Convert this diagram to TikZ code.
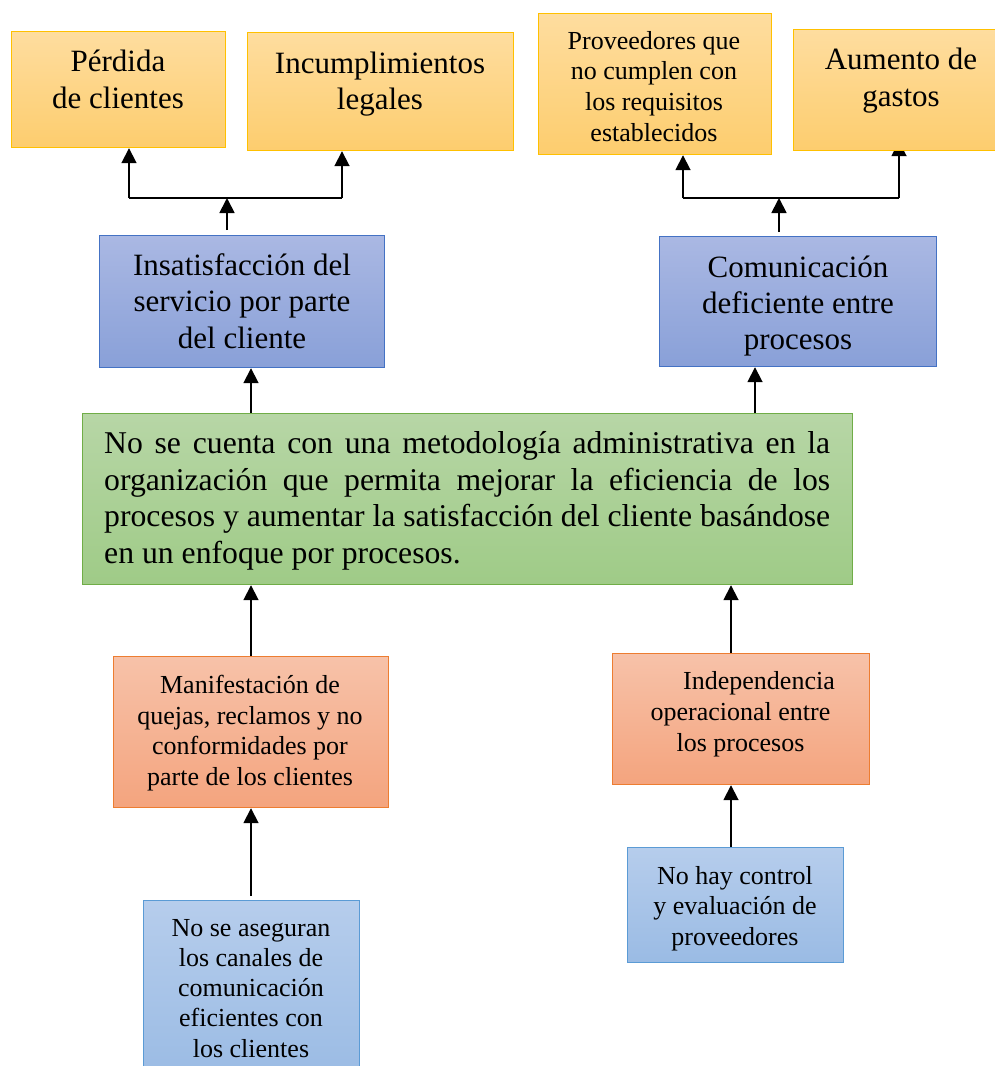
\documentclass[tikz,border=0pt]{standalone}
\usepackage{fontspec}
\setmainfont{Liberation Serif}
\usetikzlibrary{arrows.meta,calc}
\pgfdeclarelayer{bg}
\pgfsetlayers{bg,main}
\definecolor{yTop}{HTML}{FEDD9F}
\definecolor{yBot}{HTML}{FDCD6E}
\definecolor{yLine}{HTML}{FFC000}
\definecolor{bTop}{HTML}{AAB8E3}
\definecolor{bBot}{HTML}{89A0D8}
\definecolor{bLine}{HTML}{4472C4}
\definecolor{gTop}{HTML}{B7D6A6}
\definecolor{gBot}{HTML}{9FCB87}
\definecolor{gLine}{HTML}{70AD47}
\definecolor{oTop}{HTML}{F7C2A9}
\definecolor{oBot}{HTML}{F4A47E}
\definecolor{oLine}{HTML}{ED7D31}
\definecolor{lTop}{HTML}{B6CDEC}
\definecolor{lBot}{HTML}{9ABBE4}
\definecolor{lLine}{HTML}{5B9BD5}
\newcommand\fbig{\fontsize{31}{36.5}\selectfont}
\newcommand\fsml{\fontsize{26}{30.7}\selectfont}
\begin{document}
\begin{tikzpicture}[x=1pt,y=-1pt,
  box/.style={line width=1.2pt, inner sep=0pt, anchor=north west},
  ybox/.style={box, draw=yLine, top color=yTop, bottom color=yBot},
  bbox/.style={box, draw=bLine, top color=bTop, bottom color=bBot},
  gbox/.style={box, draw=gLine, top color=gTop, bottom color=gBot},
  obox/.style={box, draw=oLine, top color=oTop, bottom color=oBot},
  lbox/.style={box, draw=lLine, top color=lTop, bottom color=lBot},
  txt/.style={inner sep=0pt, anchor=base},
  arr/.style={line width=1.8pt, -{Triangle[width=15pt,length=15pt]}},
  ln/.style={line width=1.8pt}]
\useasboundingbox (0,0) rectangle (995,1066);
\clip (0,0) rectangle (995,1066);

% boxes
\node[ybox, minimum width=214pt, minimum height=116pt] (perd) at (11,31) {};
\node[ybox, minimum width=266pt, minimum height=118pt] (incu) at (247,32) {};
\node[ybox, minimum width=233pt, minimum height=141pt] (prov) at (538,13) {};
\node[ybox, minimum width=216pt, minimum height=121pt] (aum) at (793,29) {};
\node[bbox, minimum width=285pt, minimum height=132pt] (insat) at (99,235) {};
\node[bbox, minimum width=277pt, minimum height=130pt] (comu) at (659,236) {};
\node[gbox, minimum width=770pt, minimum height=171pt] (prob) at (82,413) {};
\node[obox, minimum width=275pt, minimum height=151pt] (mani) at (113,656) {};
\node[obox, minimum width=257pt, minimum height=131pt] (inde) at (612,653) {};
\node[lbox, minimum width=216pt, minimum height=180pt] (nose) at (143,900) {};
\node[lbox, minimum width=216pt, minimum height=115pt] (nohay) at (627,847) {};

% texts
\node[txt] (tperd) at (118,71.5) {\parbox[t]{260pt}{\centering\fbig Pérdida\\de clientes}};
\node[txt] (tincu) at (380,73) {\parbox[t]{260pt}{\centering\fbig Incumplimientos\\legales}};
\node[txt] (tprov) at (654,49) {\parbox[t]{260pt}{\centering\fsml Proveedores que\\no cumplen con\\los requisitos\\establecidos}};
\node[txt] (taum) at (901,69.5) {\parbox[t]{260pt}{\centering\fbig Aumento de\\gastos}};
\node[txt] (tinsat) at (242,275) {\parbox[t]{300pt}{\centering\fbig Insatisfacción del\\servicio por parte\\del cliente}};
\node[txt] (tcomu) at (798,277) {\parbox[t]{300pt}{\centering\fontsize{31}{36.2}\selectfont Comunicación\\deficiente entre\\procesos}};
\node[inner sep=0pt, anchor=base west] (tprob) at (104,453.5) {\parbox[t]{726pt}{\fontsize{31.7}{36.5}\selectfont\hyphenpenalty=10000\exhyphenpenalty=10000
No se cuenta con una metodología administrativa en la\linebreak
organización que permita mejorar la eficiencia de los\linebreak
procesos y aumentar la satisfacción del cliente basándose\linebreak
en un enfoque por procesos.}};
\node[txt] (tmani) at (250,693.5) {\parbox[t]{300pt}{\centering\fontsize{26}{30.5}\selectfont Manifestación de\\quejas, reclamos y no\\conformidades por\\parte de los clientes}};
\node[txt] (tinde) at (740.5,689.5) {\parbox[t]{300pt}{\centering\fontsize{26}{31}\selectfont\hspace*{37pt}Independencia\\operacional entre\\los procesos}};
\node[txt] (tnose) at (251,936) {\parbox[t]{260pt}{\centering\fontsize{26}{30.3}\selectfont No se aseguran\\los canales de\\comunicación\\eficientes con\\los clientes}};
\node[txt] (tnohay) at (735,884) {\parbox[t]{260pt}{\centering\fontsize{26}{30.5}\selectfont No hay control\\y evaluación de\\proveedores}};

% connectors
\coordinate (j1) at (227,198);
\coordinate (l1) at (129,198);
\coordinate (r1) at (342,198);
\coordinate (j2) at (779,198);
\coordinate (l2) at (683,198);
\coordinate (r2) at (899,198);
\coordinate (c1) at (251,0);
\coordinate (c2) at (755,0);
\coordinate (c3) at (731,0);
\begin{pgfonlayer}{bg}
\draw[arr] ($(insat.north -| j1)+(0,-5)$) -- (j1);
\draw[ln] (l1) -- (r1);
\draw[arr] (l1) -- (perd.south -| l1);
\draw[arr] (r1) -- (incu.south -| r1);
\draw[arr] ($(comu.north -| j2)+(0,-4)$) -- (j2);
\draw[ln] (l2) -- (r2);
\draw[arr] (l2) -- (prov.south -| l2);
\draw[arr] (r2) -- ($(aum.south -| r2)+(0,-10)$);
\draw[arr] (prob.north -| c1) -- (insat.south -| c1);
\draw[arr] (prob.north -| c2) -- (comu.south -| c2);
\draw[arr] (mani.north -| c1) -- (prob.south -| c1);
\draw[arr] (inde.north -| c3) -- (prob.south -| c3);
\draw[arr] ($(nose.north -| c1)+(0,-4)$) -- (mani.south -| c1);
\draw[arr] (nohay.north -| c3) -- (inde.south -| c3);
\end{pgfonlayer}
\end{tikzpicture}
\end{document}
